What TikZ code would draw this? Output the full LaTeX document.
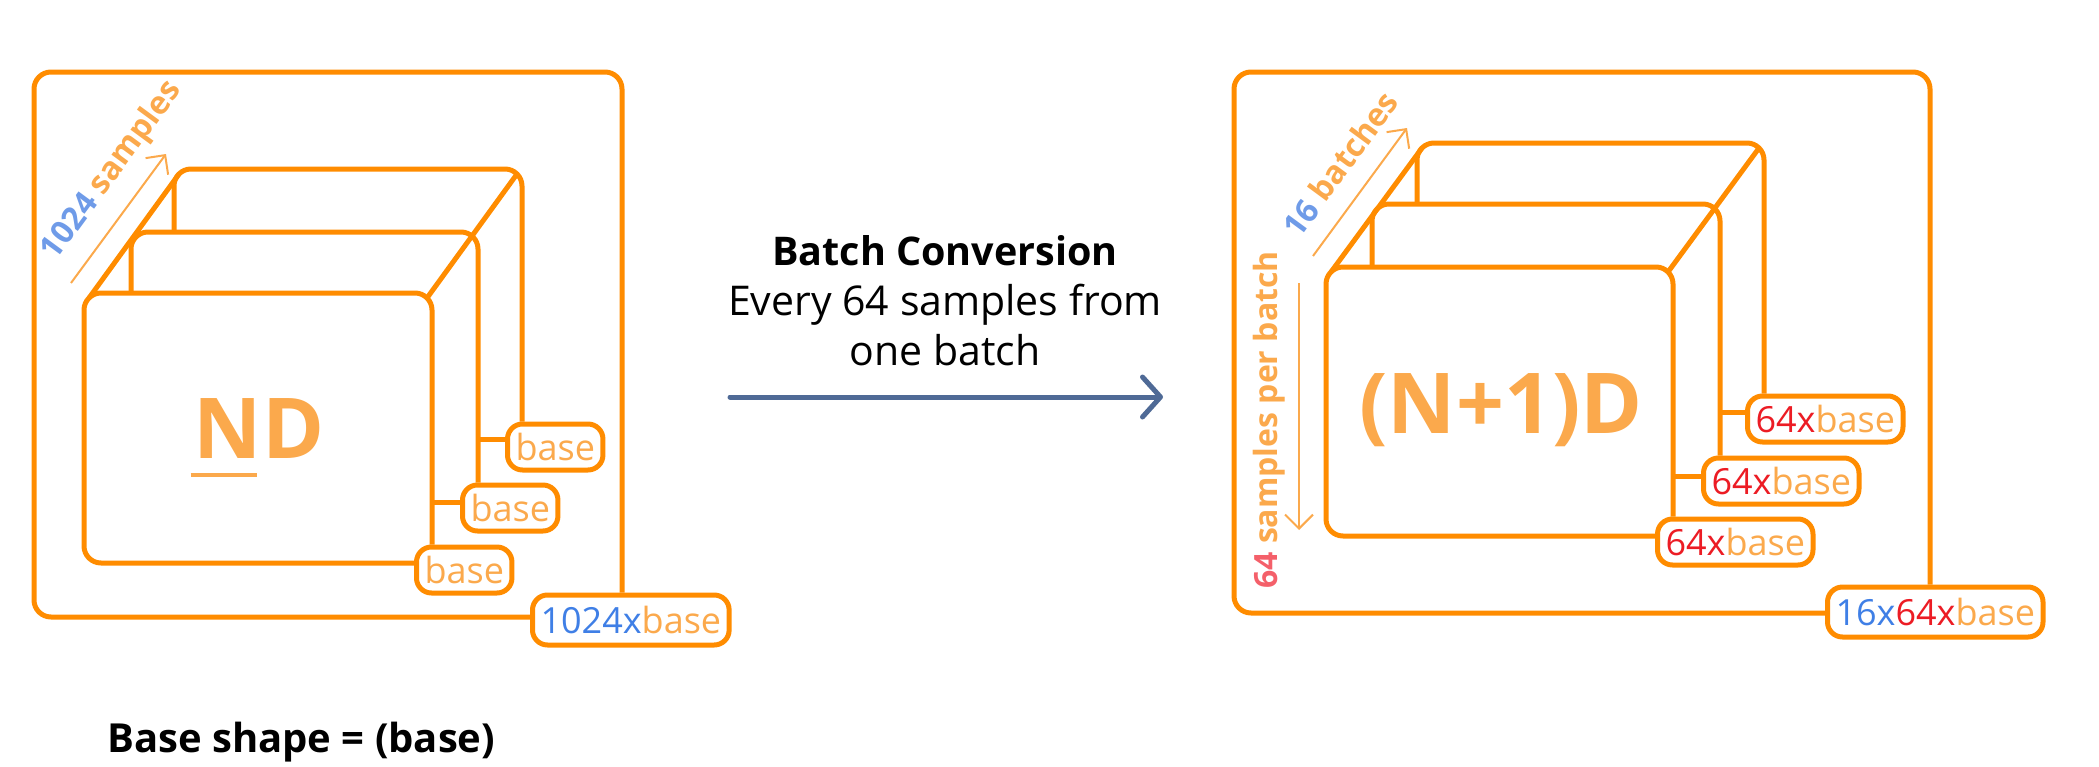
\documentclass[tikz,border=0pt]{standalone}
\usepackage{xcolor}
\usepackage{fontspec}
\setmainfont{Open Sans}
\usepackage{tikz}
\usetikzlibrary{arrows.meta}

\definecolor{boxorange}{HTML}{FF8C00}
\definecolor{textorange}{HTML}{FBA94C}
\definecolor{sizeblue}{HTML}{3F7FE6}
\definecolor{sizered}{HTML}{EC1C24}
\definecolor{dimblue}{HTML}{6F9BE8}
\definecolor{dimred}{HTML}{F4606A}
\definecolor{convblue}{HTML}{4F6A96}

\begin{document}
\begin{tikzpicture}[
	edge/.style={color=boxorange, line width=5pt, rounded corners=17pt},
	shapebox/.style={draw=boxorange, line width=5pt, rounded corners=15pt, fill=white, text=textorange, inner xsep=8pt, inner ysep=0pt, minimum height=46pt, anchor = west, font=\fontsize{36}{42}\selectfont},
	totalbox/.style={shapebox, minimum height=50pt},
	dimtext/.style={text=textorange, inner sep=0pt, font=\bfseries\fontsize{32}{38}\selectfont},
	dimarrow/.style={color=textorange, line width=2pt, -{Straight Barb[length=14pt, width=28pt]}},
	dimname/.style={text=textorange, inner sep=0pt, anchor = base, font=\bfseries\fontsize{84}{100}\selectfont}
]
	\useasboundingbox (0pt, 0pt) rectangle (2099pt, -766pt);

	\coordinate (louterTR) at (622pt, -72pt);
	\coordinate (lbackTR) at (522pt, -169pt);
	\coordinate (lmidTR) at (478pt, -232pt);
	\coordinate (lfrontTR) at (432pt, -293pt);
	\node[shapebox] (lback) at (505pt, -447pt) {base};
	\node[shapebox] (lmid) at (460pt, -508pt) {base};
	\node[shapebox] (lfront) at (414pt, -570pt) {base};
	\node[totalbox] (ltotal) at (530pt, -620pt) {\textcolor{sizeblue}{1024x}base};
	\draw[edge] (lback.north -| lbackTR) -- (lbackTR) -- (174pt, -169pt) -- (174pt, -232pt);
	\draw[edge] (lmid.north -| lmidTR) -- (lmidTR) -- (131pt, -232pt) -- (131pt, -293pt);
	\draw[edge] (lfront.north -| lfrontTR) -- (lfrontTR) -- (84pt, -293pt) -- (84pt, -563pt) -- (lfront.west |- 0pt, -563pt);
	\draw[edge] (ltotal.north -| louterTR) -- (louterTR) -- (34pt, -72pt) -- (34pt, -617pt) -- (ltotal.west |- 0pt, -617pt);
	\draw[edge] (lmidTR |- 0pt, -439pt) -- (lback.west |- 0pt, -439pt);
	\draw[edge] (lfrontTR |- 0pt, -502pt) -- (lmid.west |- 0pt, -502pt);
	\draw[edge] (89pt, -298pt) -- (179pt, -174pt);
	\draw[edge] (427pt, -298pt) -- (517pt, -174pt);
	\node[dimname] (ndim) at (259pt, -458pt) {ND};
	\draw[color=textorange, line width=4pt] ([shift={(-3pt, -17pt)}]ndim.base west) -- ++(66pt, 0pt);
	\coordinate (lsampfrom) at (71pt, -283pt);
	\coordinate (lsampto) at (166pt, -154pt);
	\draw[dimarrow] (lsampfrom) -- (lsampto);
	\node[dimtext, rotate=53.7] (lsamples) at (112pt, -171pt) {\textcolor{dimblue}{1024} samples};

	\node[align=center, inner sep=0pt, anchor = base, font=\fontsize{41}{50}\selectfont] (convtext) at (945pt, -365pt) {{\fontsize{39.5}{50}\selectfont\bfseries Batch Conversion}\\Every 64 samples from\\one batch};
	\coordinate (convfrom) at (730pt, -397pt);
	\coordinate (convto) at (1163pt, -397pt);
	\draw[color=convblue, line width=5pt, line cap=round, -{Straight Barb[length=18pt, width=40pt, round]}] (convfrom) -- (convto);

	\coordinate (routerTR) at (1930pt, -72pt);
	\coordinate (rbackTR) at (1764pt, -143pt);
	\coordinate (rmidTR) at (1720pt, -204pt);
	\coordinate (rfrontTR) at (1673pt, -267pt);
	\node[shapebox] (rback) at (1745pt, -419pt) {\textcolor{sizered}{64x}base};
	\node[shapebox] (rmid) at (1701pt, -481pt) {\textcolor{sizered}{64x}base};
	\node[shapebox] (rfront) at (1655pt, -542pt) {\textcolor{sizered}{64x}base};
	\node[totalbox] (rtotal) at (1825pt, -612pt) {\textcolor{sizeblue}{16x}\textcolor{sizered}{64x}base};
	\draw[edge] (rback.north -| rbackTR) -- (rbackTR) -- (1417pt, -143pt) -- (1417pt, -204pt);
	\draw[edge] (rmid.north -| rmidTR) -- (rmidTR) -- (1372pt, -204pt) -- (1372pt, -267pt);
	\draw[edge] (rfront.north -| rfrontTR) -- (rfrontTR) -- (1326pt, -267pt) -- (1326pt, -536pt) -- (rfront.west |- 0pt, -536pt);
	\draw[edge] (rtotal.north -| routerTR) -- (routerTR) -- (1234pt, -72pt) -- (1234pt, -613pt) -- (rtotal.west |- 0pt, -613pt);
	\draw[edge] (rmidTR |- 0pt, -412pt) -- (rback.west |- 0pt, -412pt);
	\draw[edge] (rfrontTR |- 0pt, -476pt) -- (rmid.west |- 0pt, -476pt);
	\draw[edge] (1331pt, -272pt) -- (1422pt, -148pt);
	\draw[edge] (1668pt, -272pt) -- (1759pt, -148pt);
	\node[dimname] (nplusone) at (1501pt, -433pt) {(N+1)D};
	\coordinate (rbatchfrom) at (1313pt, -256pt);
	\coordinate (rbatchto) at (1407pt, -128pt);
	\draw[dimarrow] (rbatchfrom) -- (rbatchto);
	\node[dimtext, rotate=53.7] (rbatches) at (1340pt, -164pt) {\textcolor{dimblue}{16} batches};
	\coordinate (rsampfrom) at (1299pt, -283pt);
	\coordinate (rsampto) at (1299pt, -530pt);
	\draw[dimarrow] (rsampfrom) -- (rsampto);
	\node[dimtext, rotate=90] (rsamples) at (1269pt, -420pt) {\textcolor{dimred}{64} samples per batch};

	\node[inner sep=0pt, anchor = base west, font=\bfseries\fontsize{40}{48}\selectfont] (baseshape) at (107pt, -752pt) {Base shape = (base)};
\end{tikzpicture}
\end{document}
